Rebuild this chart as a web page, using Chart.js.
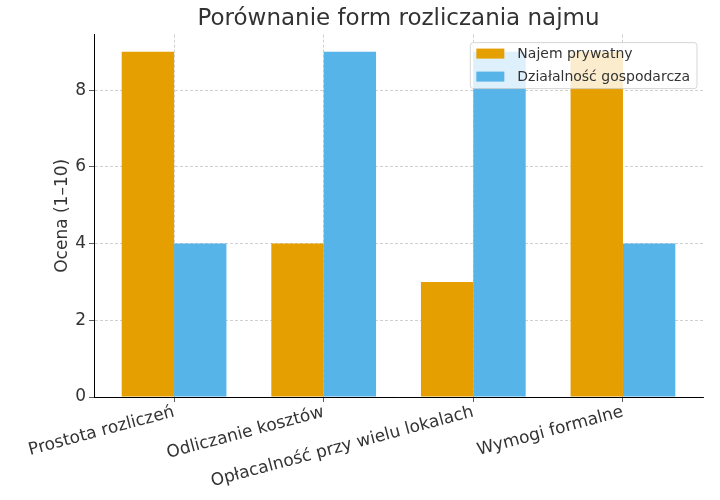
<!DOCTYPE html>
<html>
<head>
<meta charset="utf-8">
<script src="https://cdn.jsdelivr.net/npm/chart.js@4.4.1/dist/chart.umd.min.js"></script>
<style>html,body{margin:0;padding:0;background:#fff;}canvas{display:block;}</style>
</head>
<body>
<canvas id="c" width="720" height="500"></canvas>
<script>
// ---- data ----
const categories = ["Prostota rozliczeń", "Odliczanie kosztów", "Opłacalność przy wielu lokalach", "Wymogi formalne"];
const seriesNames = ["Najem prywatny", "Działalność gospodarcza"];
const najemPrywatny = [9, 4, 3, 9];
const dzialalnoscGospodarcza = [4, 9, 9, 4];
const yTickValues = [0, 2, 4, 6, 8];
const chartTitle = "Porównanie form rozliczania najmu";
const yAxisTitle = "Ocena (1–10)";

const FONT = '"DejaVu Sans", "Liberation Sans", sans-serif';
const TEXT = '#333333';
Chart.defaults.font.family = FONT;
Chart.defaults.color = TEXT;

const toPoints = arr => arr.map((v, i) => ({ x: i, y: v }));

const insideLegend = {
  id: 'insideLegend',
  afterDraw(chart) {
    const ctx = chart.ctx, area = chart.chartArea;
    ctx.save();
    ctx.font = '14px ' + FONT;
    const items = chart.data.datasets.map(d => ({ text: d.label, color: d.backgroundColor }));
    const textW = Math.max(...items.map(it => ctx.measureText(it.text).width));
    const patchW = 28, patchH = 10, padL = 6, gap = 13, padR = 7, rowH = 23;
    const boxW = padL + patchW + gap + textW + padR;
    const boxH = 46;
    const right = area.right - 6;
    const left = right - boxW;
    const top = area.top + 8;
    const r = 3;
    ctx.beginPath();
    ctx.moveTo(left + r, top);
    ctx.arcTo(left + boxW, top, left + boxW, top + boxH, r);
    ctx.arcTo(left + boxW, top + boxH, left, top + boxH, r);
    ctx.arcTo(left, top + boxH, left, top, r);
    ctx.arcTo(left, top, left + boxW, top, r);
    ctx.closePath();
    ctx.fillStyle = 'rgba(255,255,255,0.8)';
    ctx.fill();
    ctx.strokeStyle = 'rgba(204,204,204,0.8)';
    ctx.lineWidth = 1;
    ctx.stroke();
    items.forEach((it, i) => {
      const cy = top + 11 + i * rowH;
      ctx.fillStyle = it.color;
      ctx.fillRect(left + padL, cy - patchH / 2, patchW, patchH);
      ctx.fillStyle = TEXT;
      ctx.textAlign = 'left';
      ctx.textBaseline = 'middle';
      ctx.fillText(it.text, left + padL + patchW + gap, cy + 1);
    });
    ctx.restore();
  }
};

const gridColor = 'rgba(176,176,176,0.75)';

new Chart(document.getElementById('c'), {
  type: 'bar',
  data: {
    datasets: [
      { label: seriesNames[0], data: toPoints(najemPrywatny), backgroundColor: '#E69F00', borderWidth: 0 },
      { label: seriesNames[1], data: toPoints(dzialalnoscGospodarcza), backgroundColor: '#56B4E9', borderWidth: 0 }
    ]
  },
  options: {
    responsive: false,
    animation: false,
    devicePixelRatio: 1,
    categoryPercentage: 0.7,
    barPercentage: 1.0,
    layout: { padding: { left: 48, right: 17, top: 0, bottom: 0 } },
    plugins: {
      legend: { display: false },
      tooltip: { enabled: false },
      title: {
        display: true,
        text: chartTitle,
        fullSize: false,
        color: TEXT,
        font: { size: 23, weight: 'normal' },
        padding: { top: 5, bottom: 2 }
      }
    },
    scales: {
      x: {
        type: 'linear',
        min: -0.535,
        max: 3.535,
        offset: false,
        grid: {
          offset: false,
          display: true,
          drawOnChartArea: true,
          color: gridColor,
          tickBorderDash: [],
          tickColor: TEXT,
          tickLength: 5,
          lineWidth: 0.8
        },
        border: { display: true, color: '#000', width: 1, dash: [3, 2] },
        ticks: {
          stepSize: 1,
          includeBounds: false,
          autoSkip: false,
          minRotation: 15,
          maxRotation: 15,
          padding: 0,
          color: TEXT,
          font: { size: 17 },
          callback: v => categories[v] !== undefined ? categories[v] : ''
        },
        afterFit: s => { s.height = 103; }
      },
      y: {
        min: 0,
        max: 9.45,
        grid: {
          color: gridColor,
          tickBorderDash: [],
          tickColor: TEXT,
          tickLength: 5,
          lineWidth: 0.8
        },
        border: { display: true, color: '#000', width: 1, dash: [3, 2] },
        afterBuildTicks: s => { s.ticks = yTickValues.map(v => ({ value: v })); },
        ticks: {
          stepSize: 2,
          includeBounds: false,
          padding: 3,
          color: TEXT,
          font: { size: 17 }
        },
        title: {
          display: true,
          text: yAxisTitle,
          color: TEXT,
          font: { size: 17 },
          padding: { top: 4, bottom: 4 }
        },
        afterFit: s => { s.width = 46; }
      }
    }
  },
  plugins: [insideLegend]
});
</script>
</body>
</html>
